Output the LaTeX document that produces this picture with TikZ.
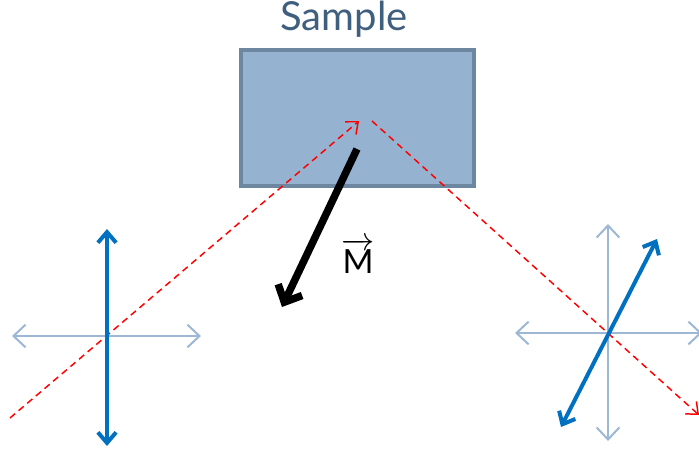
\documentclass[tikz,border=0pt]{standalone}
\usepackage{fontspec}
\setmainfont{Lato}
\usetikzlibrary{arrows.meta,positioning}
\definecolor{titleblue}{HTML}{3F5F7F}
\definecolor{samplefill}{HTML}{95B3D0}
\definecolor{sampleedge}{HTML}{6D87A0}
\definecolor{axisblue}{HTML}{9DB8D4}
\definecolor{polblue}{HTML}{0070C0}
\begin{document}
\begin{tikzpicture}[x=0.75pt,y=-0.75pt,
axis/.style={draw=axisblue,line width=1.5pt,{Straight Barb[length=3.2mm,width=6mm]}-{Straight Barb[length=3.2mm,width=6mm]}},
pol/.style={draw=polblue,line width=3pt,{Straight Barb[length=2.8mm,width=4.8mm]}-{Straight Barb[length=2.8mm,width=4.8mm]}},
beam/.style={draw=red,line width=1.1pt,dash pattern=on 5pt off 3.5pt,-{Straight Barb[length=2.6mm,width=4.4mm]}},
mag/.style={draw=black,line width=5.6pt,-{Straight Barb[length=3.6mm,width=7mm]}}]
\useasboundingbox (0,0) rectangle (699,450);
\node[draw=sampleedge,line width=2.6pt,fill=samplefill,minimum width=174.75pt,minimum height=102pt,inner sep=0pt](sample) at (357.5,118){};
\node[text=titleblue,font=\fontsize{30}{32}\selectfont](title) at (344,19){Sample};
% beams
\coordinate (in) at (10,418);
\coordinate (hit) at (359,121);
\coordinate (refl) at (372,121);
\coordinate (out) at (699,415);
\draw[beam](in)--(hit);
\draw[beam](refl)--(out);
% magnetisation
\coordinate (m0) at (357,149);
\coordinate (m1) at (282,307);
\draw[mag](m0)--(m1);
\node[font=\fontsize{25}{26}\selectfont](mlabel) at (358,256){$\overrightarrow{\mbox{M}}$};
% left polariser
\coordinate (lw) at (12,336);\coordinate (le) at (201,336);
\coordinate (ln) at (107,229);\coordinate (ls) at (107,446);
\draw[axis](lw)--(le);
\draw[pol](ln)--(ls);
% right analyser
\coordinate (rw) at (515,333);\coordinate (re) at (702,333);
\coordinate (rn) at (608,224);\coordinate (rs) at (608,441);
\coordinate (ra) at (657,239);\coordinate (rb) at (561,427);
\draw[axis](rw)--(re);
\draw[axis](rn)--(rs);
\draw[pol](rb)--(ra);
\end{tikzpicture}
\end{document}
